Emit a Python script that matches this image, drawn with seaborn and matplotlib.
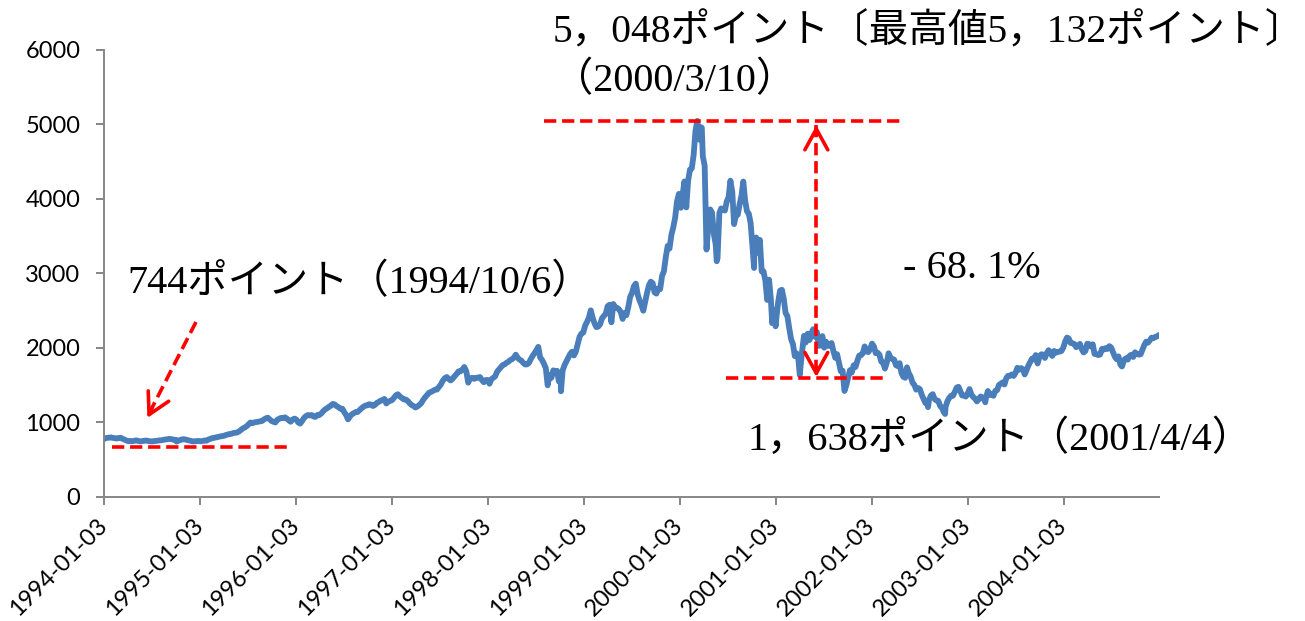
import matplotlib
matplotlib.use("Agg")
import matplotlib.pyplot as plt
import seaborn as sns
import numpy as np
import pandas as pd

# Weekly NASDAQ Composite closes, one list per calendar year
values_1994 = [787, 794, 796, 800, 793, 790, 785, 792, 795, 780, 770, 757, 748,
               752, 748, 755, 760, 752, 746, 750, 755, 758, 752, 748, 745,
               750, 752, 756, 760, 762, 768, 772, 776, 780, 775, 770, 766, 760,
               758, 770, 776, 772, 765, 758, 752, 746, 748, 750, 752]
values_1995 = [748, 752, 758, 755, 770, 780, 790, 794, 800, 805, 812, 817,
               820, 830, 838, 844, 848, 858, 862, 865, 880, 900, 920, 933,
               950, 975, 1000, 990, 1001, 1005, 1010, 1015, 1020, 1040, 1055, 1065, 1043,
               1020, 1010, 1000, 1036, 1050, 1062, 1059, 1069, 1052, 1030, 1010, 1040, 1052]
values_1996 = [1040, 1000, 985, 1020, 1060, 1085, 1100, 1095, 1100, 1080, 1075, 1100, 1101,
               1120, 1150, 1175, 1190, 1210, 1225, 1249, 1243, 1220, 1205, 1185, 1185,
               1140, 1100, 1042, 1080, 1110, 1125, 1140, 1141, 1165, 1190, 1210, 1227,
               1230, 1245, 1240, 1221, 1235, 1262, 1275, 1293, 1300, 1316, 1255, 1280, 1291]
values_1997 = [1300, 1330, 1365, 1379, 1350, 1330, 1310, 1309, 1290, 1260, 1235, 1221,
               1201, 1215, 1235, 1261, 1305, 1340, 1370, 1400, 1410, 1425, 1440, 1442,
               1475, 1510, 1560, 1594, 1610, 1585, 1565, 1587, 1620, 1650, 1685, 1686,
               1710, 1745, 1690, 1535, 1593, 1600, 1585, 1600, 1601, 1610, 1570, 1540, 1570]
values_1998 = [1570, 1520, 1580, 1600, 1619, 1680, 1710, 1740, 1770, 1780, 1800, 1815, 1836,
               1850, 1870, 1910, 1868, 1845, 1830, 1800, 1779, 1780, 1800, 1850, 1895,
               1930, 1970, 2015, 1872, 1840, 1790, 1730, 1499, 1640, 1600, 1700, 1690, 1694,
               1550, 1620, 1700, 1771, 1820, 1870, 1920, 1950, 1900, 1950, 2050, 2150, 2193]
values_1999 = [2208, 2300, 2350, 2408, 2505, 2405, 2330, 2280, 2288, 2320, 2400, 2430, 2461,
               2560, 2580, 2345, 2590, 2543, 2540, 2520, 2480, 2390, 2470, 2440, 2550, 2686,
               2740, 2830, 2864, 2720, 2638, 2580, 2500, 2620, 2739, 2840, 2890, 2870, 2746,
               2730, 2800, 2790, 2966, 3030, 3220, 3370, 3336, 3520, 3620, 3750, 3970, 4069]
values_2000 = [3882, 4064, 4235, 3887, 4244, 4395, 4411, 4590, 4914, 5048, 4798, 4963, 4573,
               4446, 3321, 3643, 3860, 3817, 3529, 3390, 3205, 3813, 3874, 3860, 3845, 3966,
               4024, 4246, 4095, 3663, 3787, 3789, 3930, 4042, 4234, 3979, 3835, 3803, 3673,
               3361, 3316, 3483, 3278, 3451, 3028, 3028, 2904, 2645, 2917, 2653, 2517, 2471]
values_2001 = [2407, 2626, 2770, 2781, 2660, 2470, 2425, 2262, 2118, 2052, 1891, 1928, 1840,
               1720, 1961, 2163, 2075, 2192, 2107, 2198, 2252, 2149, 2215, 2029, 2034, 2160,
               2004, 2084, 2029, 2030, 2066, 1956, 1868, 1916, 1805, 1687, 1695, 1423, 1499,
               1605, 1703, 1671, 1768, 1745, 1828, 1898, 1903, 1930, 2021, 1953, 1945, 1987]
values_2002 = [2059, 2022, 1930, 1937, 1911, 1818, 1805, 1724, 1802, 1929, 1868, 1852, 1845,
               1770, 1756, 1796, 1663, 1613, 1600, 1741, 1661, 1616, 1535, 1505, 1441, 1463,
               1448, 1374, 1319, 1262, 1280, 1306, 1362, 1380, 1315, 1295, 1291, 1221, 1199,
               1139, 1211, 1287, 1331, 1360, 1359, 1411, 1468, 1479, 1422, 1363, 1363, 1348]
values_2003 = [1387, 1448, 1376, 1342, 1321, 1283, 1310, 1349, 1338, 1305, 1340, 1422, 1369,
               1383, 1358, 1425, 1434, 1503, 1520, 1538, 1510, 1596, 1627, 1626, 1645, 1625,
               1665, 1734, 1708, 1730, 1715, 1645, 1702, 1765, 1810, 1858, 1847, 1905, 1792,
               1881, 1915, 1912, 1866, 1932, 1970, 1930, 1893, 1960, 1937, 1949, 1951, 1960]
values_2004 = [2006, 2086, 2140, 2124, 2066, 2064, 2053, 2011, 2030, 2055, 1985, 1940, 1960,
               2057, 2052, 2020, 2050, 1920, 1917, 1905, 1913, 1987, 1979, 1999, 1987, 2025,
               2006, 1946, 1883, 1849, 1887, 1777, 1757, 1838, 1862, 1844, 1895, 1910, 1879,
               1942, 1920, 1911, 1915, 1975, 2039, 2085, 2071, 2101, 2139, 2131, 2150, 2154, 2175]

# Daily closes at turning points
key_dates = ["1994-01-03", "1994-10-06", "1998-10-08", "2000-01-04", "2000-03-27",
             "2000-05-23", "2000-10-12", "2000-12-20", "2001-01-02", "2001-04-04",
             "2002-08-05", "2002-10-09", "2003-03-11", "2004-08-12"]
key_values = [777, 744, 1419, 3901, 4958, 3164, 3074, 2333, 2291, 1638,
              1206, 1114, 1271, 1752]

# Figures quoted in the labels
PEAK, PEAK_DATE = 5048, "2000-03-10"
HIGH = 5132
TROUGH, TROUGH_DATE = 1638, "2001-04-04"
LOW94, LOW94_DATE = 744, "1994-10-06"

tick_dates = [f"{y}-01-03" for y in range(1994, 2005)]

weekly = {1994: values_1994, 1995: values_1995, 1996: values_1996, 1997: values_1997,
          1998: values_1998, 1999: values_1999, 2000: values_2000, 2001: values_2001,
          2002: values_2002, 2003: values_2003, 2004: values_2004}


def year_dates(year, n):
    fridays = pd.date_range(f"{year}-01-01", f"{year}-12-31", freq="W-FRI")
    if len(fridays) == n:
        return fridays
    return pd.to_datetime(np.linspace(fridays[0].value, fridays[-1].value, n))


frames = [pd.DataFrame({"date": year_dates(y, len(v)), "close": v}) for y, v in weekly.items()]
frames.append(pd.DataFrame({"date": pd.to_datetime(key_dates), "close": key_values}))
df = pd.concat(frames).sort_values("date").drop_duplicates("date").reset_index(drop=True)

sns.set_style("ticks")
plt.rcParams["font.family"] = ["Lato", "Noto Sans CJK JP"]

BLUE = "#4A7EBB"
RED = "#FF0000"
GREY = "#868686"
DASH = (0, (3.4, 1.6))
# serif digits, CJK font for kana/kanji
JP = ["Liberation Serif", "Noto Sans CJK JP"]

fig = plt.figure(figsize=(13.05, 6.21), dpi=100)
ax = fig.add_axes([0.0797, 0.1997, 0.8084, 0.7198])

sns.lineplot(data=df, x="date", y="close", ax=ax, color=BLUE, linewidth=4.2,
             estimator=None, sort=True, legend=False,
             solid_joinstyle="round", solid_capstyle="round")

ax.set_xlim(pd.Timestamp("1994-01-03"), pd.Timestamp("2004-12-31"))
ax.set_ylim(0, 6000)
ax.set_yticks(range(0, 6001, 1000))
ticks = pd.to_datetime(tick_dates)
ax.set_xticks(ticks)
ax.set_xticklabels([t.strftime("%Y-%m-%d") for t in ticks], rotation=45,
                   ha="right", va="center", rotation_mode="anchor")
ax.set_xlabel("")
ax.set_ylabel("")

for side in ("top", "right"):
    ax.spines[side].set_visible(False)
for side in ("left", "bottom"):
    ax.spines[side].set_color(GREY)
    ax.spines[side].set_linewidth(1.4)
ax.tick_params(axis="both", direction="out", length=6, width=1.4, color=GREY,
               labelsize=17, labelcolor="black")
ax.tick_params(axis="y", pad=11)
ax.tick_params(axis="x", pad=12)

fig.canvas.draw()


def dashed(x0, y0, x1, y1):
    ax.plot([pd.Timestamp(x0), pd.Timestamp(x1)], [y0, y1], color=RED, lw=2.6,
            linestyle=DASH, solid_capstyle="butt", clip_on=False, zorder=3)


def head(tip_date, tip_val, from_date, from_val, size=10):
    tip = ax.transData.transform((matplotlib.dates.date2num(pd.Timestamp(tip_date)), tip_val))
    src = ax.transData.transform((matplotlib.dates.date2num(pd.Timestamp(from_date)), from_val))
    d = (src - tip) / np.hypot(*(src - tip))
    off = d * size * 72 / fig.dpi
    ax.annotate("", xy=(pd.Timestamp(tip_date), tip_val), xycoords="data",
                xytext=(off[0], off[1]), textcoords="offset points",
                arrowprops=dict(arrowstyle="->,head_length=1.0,head_width=0.55",
                                color=RED, lw=2.6, shrinkA=0, shrinkB=0,
                                mutation_scale=15), zorder=4)


# peak / trough guide lines and the drawdown arrow
dashed("1998-08-05", PEAK, "2002-05-08", PEAK)
dashed("2000-06-28", TROUGH - 40, "2002-03-02", TROUGH - 40)
dashed("1994-02-01", 675, "1995-12-01", 675)
dashed("2001-06-06", 4990, "2001-06-06", 1610)
head("2001-06-06", 4990, "2001-06-06", 1610)
head("2001-06-06", 1610, "2001-06-06", 4990)
dashed("1994-12-19", 2349, "1994-06-25", 1130)
head("1994-06-17", 1060, "1994-12-19", 2349)


def jp_num(v):
    return f"{v:,}".replace(",", "，")


def jp_date(s):
    t = pd.Timestamp(s)
    return f"{t.year}/{t.month}/{t.day}"


drawdown = (TROUGH / HIGH - 1) * 100

texts = [
    (0.4256, 1.039, 28.5, f"{jp_num(PEAK)}ポイント〔最高値{jp_num(HIGH)}ポイント〕"),
    (0.4256, 0.930, 29, f"（{jp_date(PEAK_DATE)}）"),
    (0.0218, 0.4787, 29, f"{LOW94}ポイント（{jp_date(LOW94_DATE)}）"),
    (0.757, 0.512, 29, f"- {abs(drawdown):.1f}%".replace(".", ". ")),
    (0.6104, 0.1275, 29, f"{jp_num(TROUGH)}ポイント（{jp_date(TROUGH_DATE)}）"),
]
for x, y, size, s in texts:
    ax.text(x, y, s, transform=ax.transAxes, ha="left", va="center",
            fontsize=size, family=JP, color="black", clip_on=False)

fig.savefig("out.png", dpi=100)
